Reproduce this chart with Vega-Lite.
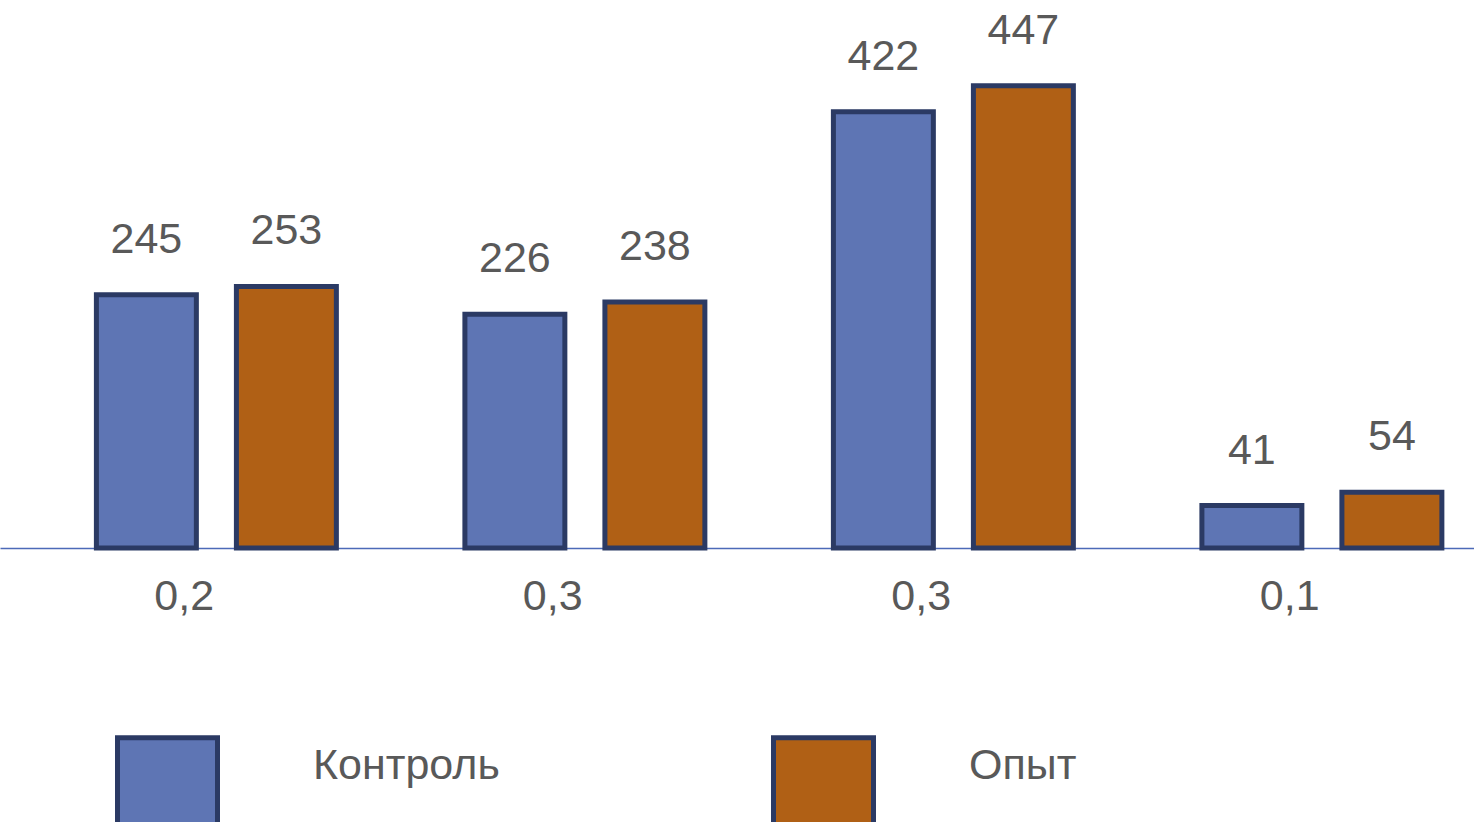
{
  "$schema": "https://vega.github.io/schema/vega-lite/v6.json",
  "width": 1474,
  "height": 548,
  "autosize": {"type": "none"},
  "padding": {"top": 0, "left": 0, "right": 0, "bottom": 274},
  "background": "white",
  "config": {
    "view": {"stroke": null},
    "font": "Liberation Sans"
  },
  "data": {
    "values": [
      {"group": "0,2", "series": "Контроль", "value": 245},
      {"group": "0,2", "series": "Опыт", "value": 253},
      {"group": "0,3", "series": "Контроль", "value": 226},
      {"group": "0,3", "series": "Опыт", "value": 238},
      {"group": "0,3 ", "series": "Контроль", "value": 422},
      {"group": "0,3 ", "series": "Опыт", "value": 447},
      {"group": "0,1", "series": "Контроль", "value": 41},
      {"group": "0,1", "series": "Опыт", "value": 54}
    ]
  },
  "encoding": {
    "x": {
      "field": "group",
      "type": "nominal",
      "sort": null,
      "scale": {"paddingInner": 0, "paddingOuter": 0},
      "axis": {
        "title": null,
        "labelAngle": 0,
        "labelExpr": "trim(datum.label)",
        "labelFontSize": 43,
        "labelColor": "#595959",
        "labelPadding": 27,
        "ticks": false,
        "domainColor": "#4D6AB8",
        "domainWidth": 1.5,
        "grid": false
      }
    },
    "xOffset": {
      "field": "series",
      "type": "nominal",
      "scale": {"paddingInner": 0.286, "paddingOuter": 0.459, "align": 0.75}
    },
    "y": {
      "field": "value",
      "type": "quantitative",
      "scale": {"domain": [0, 530]},
      "axis": null
    }
  },
  "layer": [
    {
      "mark": {"type": "bar", "stroke": "#2B3A64", "strokeWidth": 5},
      "encoding": {
        "color": {
          "field": "series",
          "type": "nominal",
          "scale": {"domain": ["Контроль", "Опыт"], "range": ["#5E75B4", "#B06015"]},
          "legend": {
            "title": null,
            "orient": "none",
            "legendX": 115,
            "legendY": 735,
            "direction": "horizontal",
            "columns": 2,
            "columnPadding": 263,
            "symbolType": "square",
            "symbolSize": 10000,
            "symbolStrokeWidth": 5,
            "symbolStrokeColor": "#2B3A64",
            "symbolOpacity": 1,
            "labelFontSize": 43,
            "labelColor": "#595959",
            "labelOffset": 93,
            "labelBaseline": "bottom",
            "labelLimit": 400,
            "padding": 0
          }
        }
      }
    },
    {
      "mark": {"type": "text", "fontSize": 43, "color": "#595959", "baseline": "alphabetic", "dy": -42},
      "encoding": {
        "text": {"field": "value", "type": "quantitative"}
      }
    }
  ]
}
